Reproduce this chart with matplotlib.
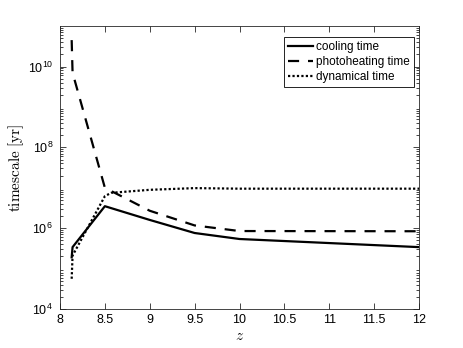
import matplotlib
matplotlib.use("Agg")
import matplotlib.pyplot as plt
from matplotlib.ticker import LogLocator, NullFormatter, FixedLocator

# redshift sample points
z = [8.13, 8.14, 8.5, 9.0, 9.5, 10.0, 12.0]
cooling = [1.9e5, 3.4e5, 3.5e6, 1.6e6, 7.6e5, 5.4e5, 3.4e5]
photoheating = [4.5e10, 7.0e9, 1.0e7, 2.7e6, 1.17e6, 8.5e5, 8.4e5]

z_dyn = [8.13, 8.14, 8.5, 8.57, 9.0, 9.5, 10.0, 12.0]
dynamical = [5.6e4, 2.1e5, 6.2e6, 7.5e6, 8.9e6, 9.8e6, 9.5e6, 9.5e6]

yticks = [1e4, 1e6, 1e8, 1e10]

plt.rcParams['font.family'] = 'Liberation Sans'
plt.rcParams['mathtext.fontset'] = 'custom'
plt.rcParams['mathtext.rm'] = 'Liberation Sans'
plt.rcParams['mathtext.it'] = 'Liberation Sans:italic'

fig = plt.figure(figsize=(4.63, 3.48), dpi=100)
ax = fig.add_axes([0.1296, 0.112, 0.7754, 0.813])

ax.plot(z, cooling, 'k-', lw=1.6, label='cooling time')
ax.plot(z, photoheating, color='k', ls=(0, (5, 4)), lw=1.6, label='photoheating time')
ax.plot(z_dyn, dynamical, color='k', ls=(0, (1, 1)), lw=1.6, label='dynamical time')

ax.set_yscale('log')
ax.set_xlim(8, 12)
ax.set_ylim(1e4, 1e11)
ax.set_xticks([8, 8.5, 9, 9.5, 10, 10.5, 11, 11.5, 12])
ax.set_xticklabels(['8', '8.5', '9', '9.5', '10', '10.5', '11', '11.5', '12'])
ax.yaxis.set_major_locator(FixedLocator(yticks))
ax.set_yticklabels([r'$10^{%d}$' % len(str(int(v))[1:]) for v in yticks])
ax.yaxis.set_minor_locator(LogLocator(base=10, subs=range(2, 10), numticks=20))
ax.yaxis.set_minor_formatter(NullFormatter())

ax.tick_params(which='both', direction='in', top=True, right=True,
               labelsize=9, color='#262626', width=0.6)
ax.tick_params(which='major', length=4)
ax.tick_params(which='minor', length=2.5)
ax.tick_params(axis='y', pad=5)
for s in ax.spines.values():
    s.set_linewidth(0.6)
    s.set_color('#262626')

ax.set_xlabel(r'$z$', fontsize=11, math_fontfamily='cm', labelpad=2)
ax.set_ylabel(r'$\mathrm{timescale\ [yr]}$', fontsize=11, math_fontfamily='cm', labelpad=1)

leg = ax.legend(loc='upper right', fontsize=8.5, fancybox=False, framealpha=1,
                edgecolor='k', bbox_to_anchor=(414 / 463, 1 - 37 / 348),
                bbox_transform=fig.transFigure, borderaxespad=0,
                handlelength=2.1, handletextpad=0.3, borderpad=0.35,
                labelspacing=0.25)
leg.get_frame().set_linewidth(0.6)

fig.savefig('out.png', dpi=100)
